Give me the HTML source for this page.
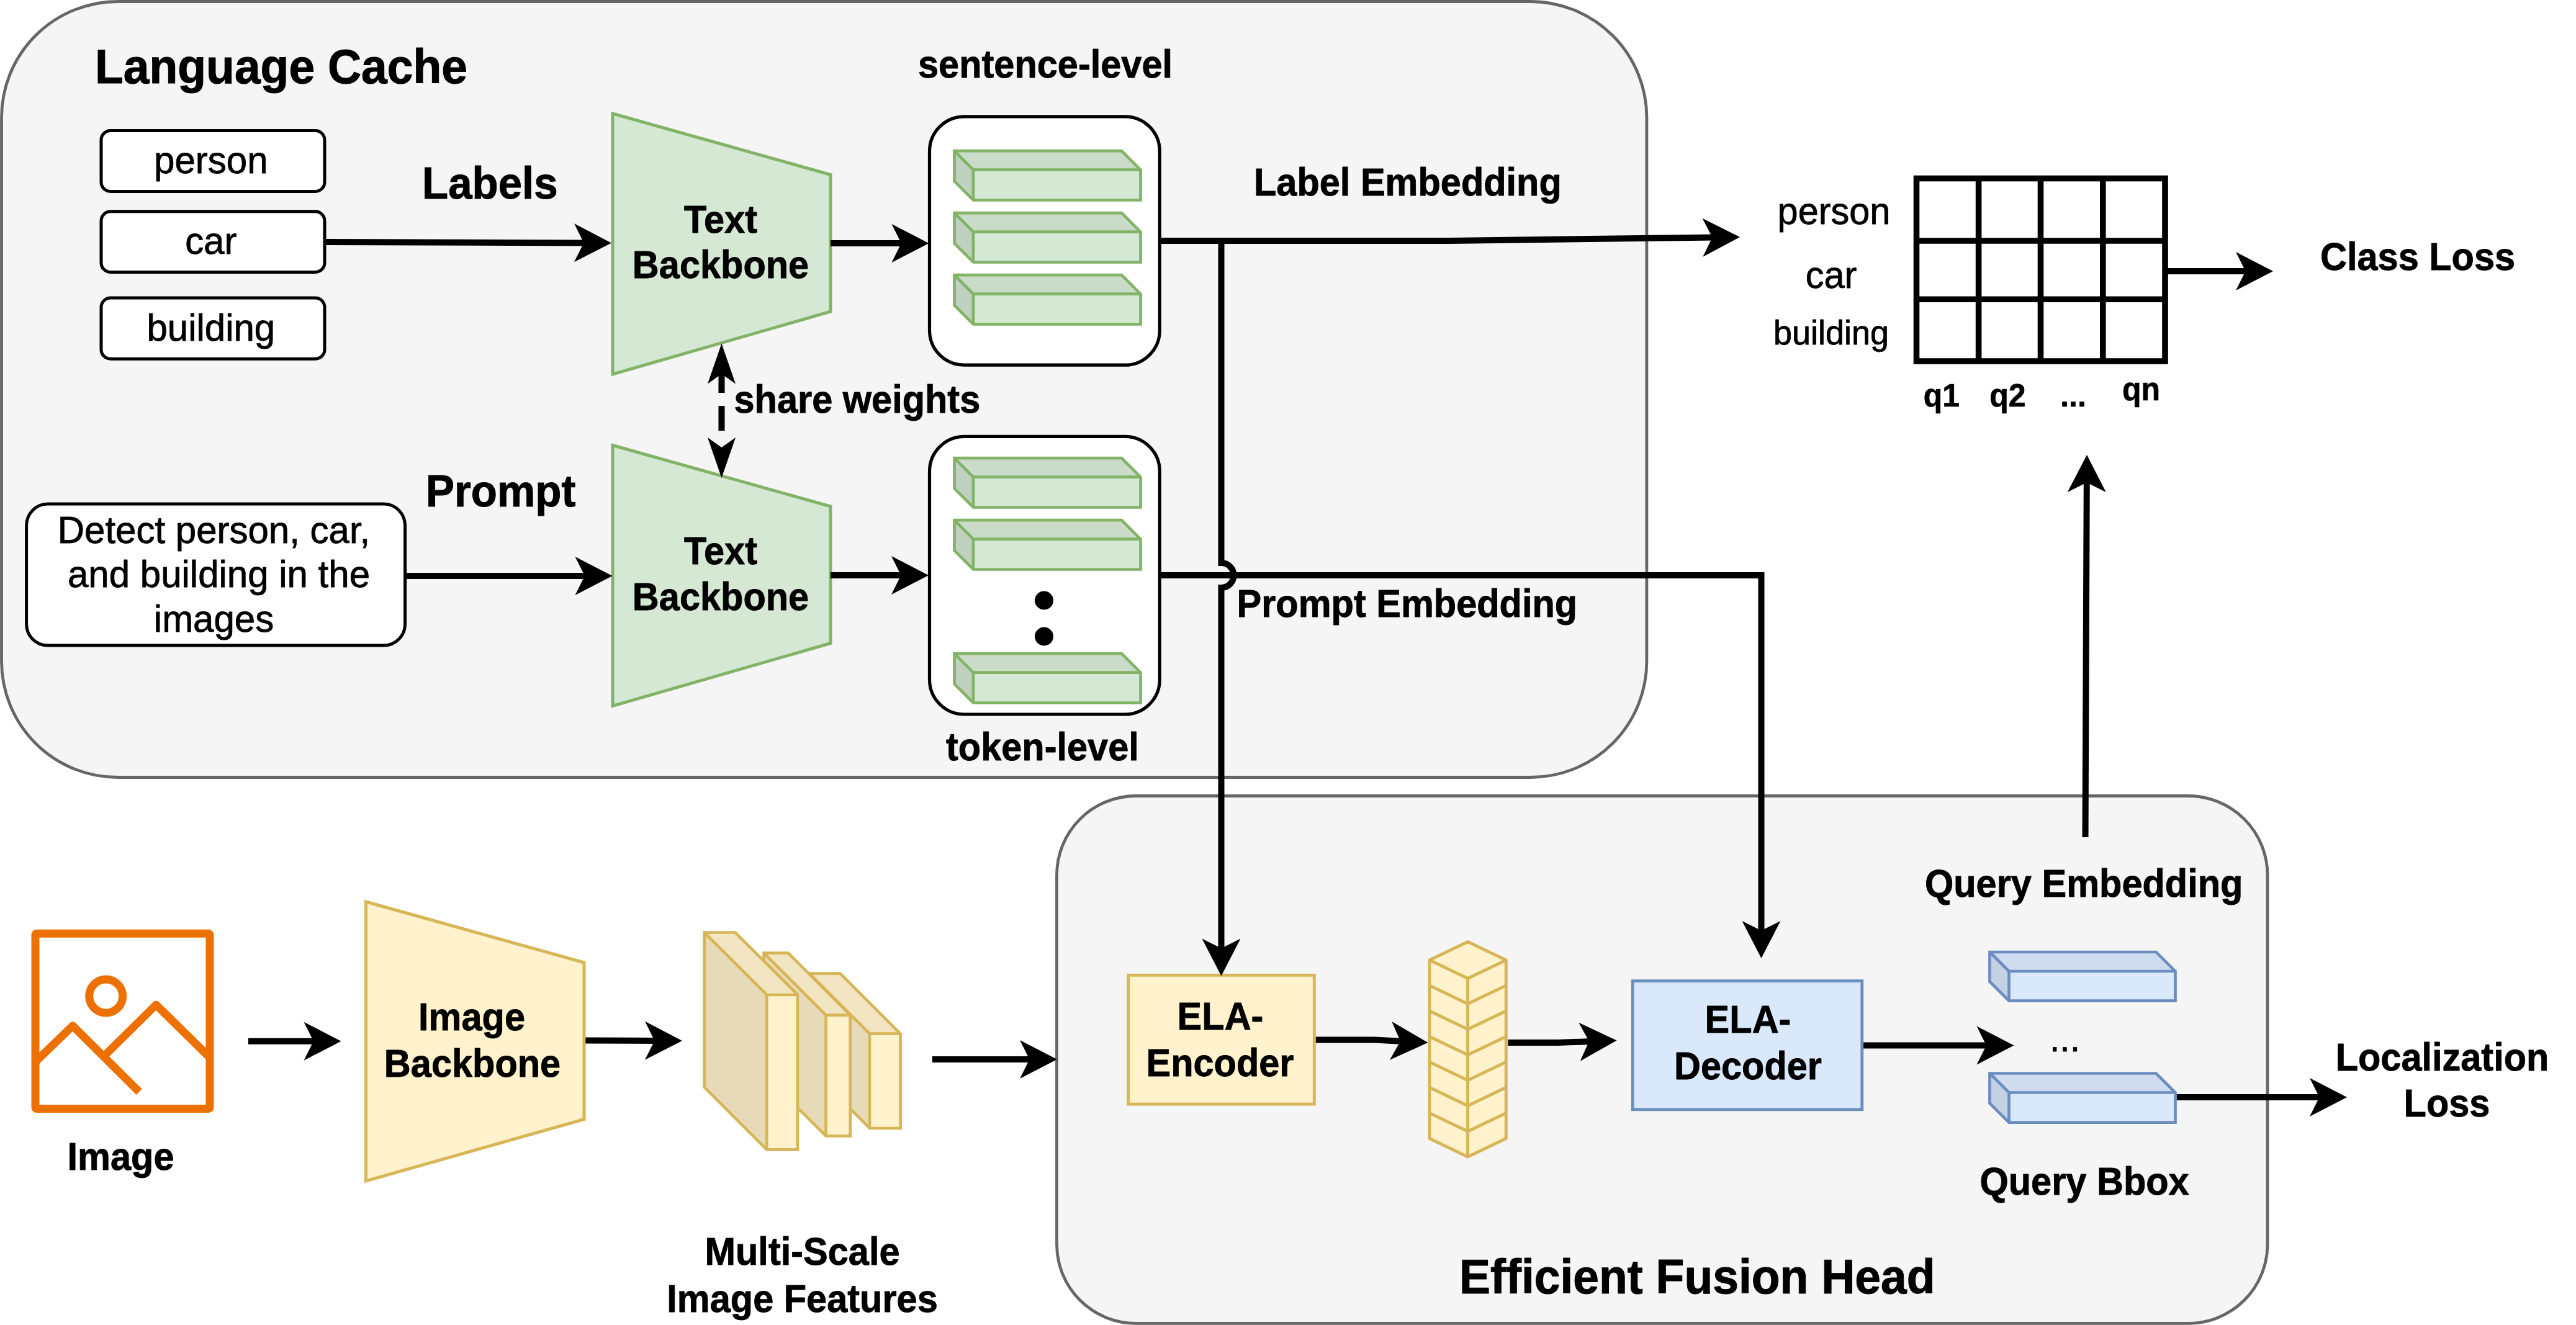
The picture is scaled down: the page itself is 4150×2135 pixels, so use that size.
<!DOCTYPE html><html><head><meta charset="utf-8"><title>Architecture</title><style>html,body{margin:0;padding:0;background:#fff;overflow:hidden;width:4150px;height:2135px}svg{display:block}text{font-family:"Liberation Sans",Arial,Helvetica,sans-serif;fill:#000}</style></head><body>
<svg width="4150" height="2135" viewBox="0 0 4150 2135">
<rect width="4150" height="2135" fill="#fff"/>
<rect x="2.5" y="2.5" width="2650.4" height="1250" rx="187" ry="187" fill="#f5f5f5" stroke="#666" stroke-width="4.8"/>
<rect x="1702.5" y="1282.5" width="1950.5" height="849.9" rx="127.5" ry="127.5" fill="#f5f5f5" stroke="#666" stroke-width="4.8"/>
<text transform="translate(153.0,133.5) scale(1,1.045)" font-size="75.0" font-weight="700" text-anchor="start" stroke="#000" stroke-width="1.05" stroke-linejoin="round">Language Cache</text>
<text transform="translate(2351.0,2084.0) scale(1,1.045)" font-size="75.0" font-weight="700" text-anchor="start" stroke="#000" stroke-width="1.05" stroke-linejoin="round">Efficient Fusion Head</text>
<rect x="163" y="210.5" width="360" height="98.0" rx="15" ry="15" fill="#fff" stroke="#000" stroke-width="5"/>
<text transform="translate(339.8,279.0) scale(1,1.020)" font-size="60.0"  text-anchor="middle" stroke="#000" stroke-width="0.84" stroke-linejoin="round">person</text>
<rect x="163" y="340.8" width="360" height="97.7" rx="15" ry="15" fill="#fff" stroke="#000" stroke-width="5"/>
<text transform="translate(339.8,409.3) scale(1,1.020)" font-size="60.0"  text-anchor="middle" stroke="#000" stroke-width="0.84" stroke-linejoin="round">car</text>
<rect x="163" y="480.1" width="360" height="98.1" rx="15" ry="15" fill="#fff" stroke="#000" stroke-width="5"/>
<text transform="translate(339.8,548.6) scale(1,1.020)" font-size="60.0"  text-anchor="middle" stroke="#000" stroke-width="0.84" stroke-linejoin="round">building</text>
<text transform="translate(680.0,319.5) scale(1,1.045)" font-size="69.0" font-weight="700" text-anchor="start" stroke="#000" stroke-width="0.97" stroke-linejoin="round">Labels</text>
<text transform="translate(686.0,815.5) scale(1,1.045)" font-size="69.0" font-weight="700" text-anchor="start" stroke="#000" stroke-width="0.97" stroke-linejoin="round">Prompt</text>
<rect x="42.6" y="812.1" width="610" height="228" rx="34.5" ry="34.5" fill="#fff" stroke="#000" stroke-width="5"/>
<text transform="translate(344.5,875.0) scale(1,1.020)" font-size="60.0"  text-anchor="middle" stroke="#000" stroke-width="0.84" stroke-linejoin="round">Detect person, car,</text>
<text transform="translate(352.5,946.0) scale(1,1.020)" font-size="60.0"  text-anchor="middle" stroke="#000" stroke-width="0.84" stroke-linejoin="round">and building in the</text>
<text transform="translate(344.5,1018.0) scale(1,1.020)" font-size="60.0"  text-anchor="middle" stroke="#000" stroke-width="0.84" stroke-linejoin="round">images</text>
<polygon points="987,183.0 1338,281.5 1338,502.0 987,603.0" fill="#d5e8d4" stroke="#82b366" stroke-width="5" stroke-linejoin="miter"/>
<text transform="translate(1161.0,374.5) scale(1,1.045)" font-size="59.5" font-weight="700" text-anchor="middle" stroke="#000" stroke-width="0.83" stroke-linejoin="round">Text</text>
<text transform="translate(1161.0,448.0) scale(1,1.045)" font-size="59.5" font-weight="700" text-anchor="middle" stroke="#000" stroke-width="0.83" stroke-linejoin="round">Backbone</text>
<polygon points="987,717.5 1338,816.0 1338,1036.5 987,1137.5" fill="#d5e8d4" stroke="#82b366" stroke-width="5" stroke-linejoin="miter"/>
<text transform="translate(1161.0,909.0) scale(1,1.045)" font-size="59.5" font-weight="700" text-anchor="middle" stroke="#000" stroke-width="0.83" stroke-linejoin="round">Text</text>
<text transform="translate(1161.0,982.5) scale(1,1.045)" font-size="59.5" font-weight="700" text-anchor="middle" stroke="#000" stroke-width="0.83" stroke-linejoin="round">Backbone</text>
<rect x="1497.5" y="187.8" width="370.8" height="400.4" rx="56" ry="56" fill="#fff" stroke="#000" stroke-width="5.2"/>
<rect x="1497.5" y="703.4" width="370.8" height="447.6" rx="56" ry="56" fill="#fff" stroke="#000" stroke-width="5.2"/>
<g stroke="#82b366" stroke-width="4.7" stroke-linejoin="miter">
<polygon points="1537.5,243.2 1807.0,243.2 1837.5,273.7 1568.0,273.7" fill="#cadcc9" stroke="none"/>
<polygon points="1537.5,243.2 1568.0,273.7 1568.0,322.5 1537.5,292.0" fill="#c0d1bf" stroke="none"/>
<rect x="1568.0" y="273.7" width="269.5" height="48.8" fill="#d5e8d4" stroke="none"/>
<polygon points="1537.5,243.2 1807.0,243.2 1837.5,273.7 1837.5,322.5 1568.0,322.5 1537.5,292.0" fill="none"/>
<path d="M1537.5,243.2 L1568.0,273.7 L1837.5,273.7 M1568.0,273.7 L1568.0,322.5" fill="none"/>
</g>
<g stroke="#82b366" stroke-width="4.7" stroke-linejoin="miter">
<polygon points="1537.5,343.2 1807.0,343.2 1837.5,373.7 1568.0,373.7" fill="#cadcc9" stroke="none"/>
<polygon points="1537.5,343.2 1568.0,373.7 1568.0,422.5 1537.5,392.0" fill="#c0d1bf" stroke="none"/>
<rect x="1568.0" y="373.7" width="269.5" height="48.8" fill="#d5e8d4" stroke="none"/>
<polygon points="1537.5,343.2 1807.0,343.2 1837.5,373.7 1837.5,422.5 1568.0,422.5 1537.5,392.0" fill="none"/>
<path d="M1537.5,343.2 L1568.0,373.7 L1837.5,373.7 M1568.0,373.7 L1568.0,422.5" fill="none"/>
</g>
<g stroke="#82b366" stroke-width="4.7" stroke-linejoin="miter">
<polygon points="1537.5,443.2 1807.0,443.2 1837.5,473.7 1568.0,473.7" fill="#cadcc9" stroke="none"/>
<polygon points="1537.5,443.2 1568.0,473.7 1568.0,522.5 1537.5,492.0" fill="#c0d1bf" stroke="none"/>
<rect x="1568.0" y="473.7" width="269.5" height="48.8" fill="#d5e8d4" stroke="none"/>
<polygon points="1537.5,443.2 1807.0,443.2 1837.5,473.7 1837.5,522.5 1568.0,522.5 1537.5,492.0" fill="none"/>
<path d="M1537.5,443.2 L1568.0,473.7 L1837.5,473.7 M1568.0,473.7 L1568.0,522.5" fill="none"/>
</g>
<g stroke="#82b366" stroke-width="4.7" stroke-linejoin="miter">
<polygon points="1537.5,738.2 1807.0,738.2 1837.5,768.7 1568.0,768.7" fill="#cadcc9" stroke="none"/>
<polygon points="1537.5,738.2 1568.0,768.7 1568.0,817.5 1537.5,787.0" fill="#c0d1bf" stroke="none"/>
<rect x="1568.0" y="768.7" width="269.5" height="48.8" fill="#d5e8d4" stroke="none"/>
<polygon points="1537.5,738.2 1807.0,738.2 1837.5,768.7 1837.5,817.5 1568.0,817.5 1537.5,787.0" fill="none"/>
<path d="M1537.5,738.2 L1568.0,768.7 L1837.5,768.7 M1568.0,768.7 L1568.0,817.5" fill="none"/>
</g>
<g stroke="#82b366" stroke-width="4.7" stroke-linejoin="miter">
<polygon points="1537.5,838.2 1807.0,838.2 1837.5,868.7 1568.0,868.7" fill="#cadcc9" stroke="none"/>
<polygon points="1537.5,838.2 1568.0,868.7 1568.0,917.5 1537.5,887.0" fill="#c0d1bf" stroke="none"/>
<rect x="1568.0" y="868.7" width="269.5" height="48.8" fill="#d5e8d4" stroke="none"/>
<polygon points="1537.5,838.2 1807.0,838.2 1837.5,868.7 1837.5,917.5 1568.0,917.5 1537.5,887.0" fill="none"/>
<path d="M1537.5,838.2 L1568.0,868.7 L1837.5,868.7 M1568.0,868.7 L1568.0,917.5" fill="none"/>
</g>
<g stroke="#82b366" stroke-width="4.7" stroke-linejoin="miter">
<polygon points="1537.5,1053.2 1807.0,1053.2 1837.5,1083.7 1568.0,1083.7" fill="#cadcc9" stroke="none"/>
<polygon points="1537.5,1053.2 1568.0,1083.7 1568.0,1132.5 1537.5,1102.0" fill="#c0d1bf" stroke="none"/>
<rect x="1568.0" y="1083.7" width="269.5" height="48.8" fill="#d5e8d4" stroke="none"/>
<polygon points="1537.5,1053.2 1807.0,1053.2 1837.5,1083.7 1837.5,1132.5 1568.0,1132.5 1537.5,1102.0" fill="none"/>
<path d="M1537.5,1053.2 L1568.0,1083.7 L1837.5,1083.7 M1568.0,1083.7 L1568.0,1132.5" fill="none"/>
</g>
<circle cx="1682" cy="967.5" r="15" fill="#000"/><circle cx="1682" cy="1025.5" r="15" fill="#000"/>
<text transform="translate(1479.0,125.0) scale(1,1.045)" font-size="59.5" font-weight="700" text-anchor="start" stroke="#000" stroke-width="0.83" stroke-linejoin="round">sentence-level</text>
<text transform="translate(1524.0,1225.0) scale(1,1.045)" font-size="59.5" font-weight="700" text-anchor="start" stroke="#000" stroke-width="0.83" stroke-linejoin="round">token-level</text>
<text transform="translate(1182.5,664.5) scale(1,1.045)" font-size="59.5" font-weight="700" text-anchor="start" stroke="#000" stroke-width="0.83" stroke-linejoin="round">share weights</text>
<text transform="translate(2020.0,314.5) scale(1,1.045)" font-size="59.5" font-weight="700" text-anchor="start" stroke="#000" stroke-width="0.83" stroke-linejoin="round">Label Embedding</text>
<text transform="translate(1992.5,994.0) scale(1,1.045)" font-size="59.5" font-weight="700" text-anchor="start" stroke="#000" stroke-width="0.83" stroke-linejoin="round">Prompt Embedding</text>
<path d="M525.0,390.0 L944.5,391.4" fill="none" stroke="#000" stroke-width="10.0" stroke-linejoin="miter" />
<polygon points="985.0,391.5 924.9,422.3 940.5,391.4 925.1,360.3" fill="#000"/>
<path d="M1338.0,392.0 L1456.0,392.0" fill="none" stroke="#000" stroke-width="10.0" stroke-linejoin="miter" />
<polygon points="1496.5,392.0 1436.5,423.0 1452.0,392.0 1436.5,361.0" fill="#000"/>
<path d="M1870.0,388.0 L2335.0,388.0 L2762.5,382.5" fill="none" stroke="#000" stroke-width="10.0" stroke-linejoin="miter" />
<polygon points="2803.0,382.0 2743.4,413.8 2758.5,382.6 2742.6,351.8" fill="#000"/>
<path d="M654.0,928.0 L946.0,928.0" fill="none" stroke="#000" stroke-width="10.0" stroke-linejoin="miter" />
<polygon points="986.5,928.0 926.5,959.0 942.0,928.0 926.5,897.0" fill="#000"/>
<path d="M1338.0,927.0 L1455.5,927.0" fill="none" stroke="#000" stroke-width="10.0" stroke-linejoin="miter" />
<polygon points="1496.0,927.0 1436.0,958.0 1451.5,927.0 1436.0,896.0" fill="#000"/>
<path d="M1870.0,927.0 L2837.5,927.0 L2837.5,1503.5" fill="none" stroke="#000" stroke-width="10.0" stroke-linejoin="miter" />
<polygon points="2837.5,1544.0 2806.5,1484.0 2837.5,1499.5 2868.5,1484.0" fill="#000"/>
<path d="M1162.5,600 L1162.5,633 M1162.5,654 L1162.5,694" stroke="#000" stroke-width="10" fill="none"/>
<polygon points="1162.5,553.5 1185.0,618.5 1162.5,602.5 1140.0,618.5" fill="#000"/>
<polygon points="1162.5,770.0 1140.0,705.0 1162.5,721.0 1185.0,705.0" fill="#000"/>
<path d="M3492.0,437.0 L3621.5,437.0" fill="none" stroke="#000" stroke-width="10.0" stroke-linejoin="miter" />
<polygon points="3662.0,437.0 3602.0,468.0 3617.5,437.0 3602.0,406.0" fill="#000"/>
<path d="M3359.5,1349.0 L3361.8,773.5" fill="none" stroke="#000" stroke-width="10.0" stroke-linejoin="miter" />
<polygon points="3362.0,733.0 3392.8,793.1 3361.8,777.5 3330.8,792.9" fill="#000"/>
<path d="M400.0,1677.7 L509.0,1677.7" fill="none" stroke="#000" stroke-width="10.0" stroke-linejoin="miter" />
<polygon points="549.5,1677.7 489.5,1708.7 505.0,1677.7 489.5,1646.7" fill="#000"/>
<path d="M941.0,1676.5 L1058.5,1676.9" fill="none" stroke="#000" stroke-width="10.0" stroke-linejoin="miter" />
<polygon points="1099.0,1677.0 1038.9,1707.8 1054.5,1676.9 1039.1,1645.8" fill="#000"/>
<path d="M1502.0,1707.0 L1662.5,1707.0" fill="none" stroke="#000" stroke-width="10.0" stroke-linejoin="miter" />
<polygon points="1703.0,1707.0 1643.0,1738.0 1658.5,1707.0 1643.0,1676.0" fill="#000"/>
<path d="M2119.5,1675.5 L2215.0,1675.5 L2260.1,1677.9" fill="none" stroke="#000" stroke-width="10.0" stroke-linejoin="miter" />
<polygon points="2300.5,1680.0 2239.0,1707.8 2256.1,1677.7 2242.2,1645.9" fill="#000"/>
<path d="M2429.5,1680.0 L2510.0,1680.0 L2564.0,1678.0" fill="none" stroke="#000" stroke-width="10.0" stroke-linejoin="miter" />
<polygon points="2604.5,1676.5 2545.7,1709.7 2560.0,1678.1 2543.4,1647.7" fill="#000"/>
<path d="M3001.5,1684.5 L3204.0,1684.5" fill="none" stroke="#000" stroke-width="10.0" stroke-linejoin="miter" />
<polygon points="3244.5,1684.5 3184.5,1715.5 3200.0,1684.5 3184.5,1653.5" fill="#000"/>
<path d="M3506.5,1768.0 L3740.5,1768.0" fill="none" stroke="#000" stroke-width="10.0" stroke-linejoin="miter" />
<polygon points="3781.0,1768.0 3721.0,1799.0 3736.5,1768.0 3721.0,1737.0" fill="#000"/>
<text transform="translate(2954.5,361.0) scale(1,1.020)" font-size="59.5"  text-anchor="middle" stroke="#000" stroke-width="0.83" stroke-linejoin="round">person</text>
<text transform="translate(2950.0,464.0) scale(1,1.020)" font-size="59.5"  text-anchor="middle" stroke="#000" stroke-width="0.83" stroke-linejoin="round">car</text>
<text transform="translate(2950.0,555.0) scale(1,1.020)" font-size="54.0"  text-anchor="middle" stroke="#000" stroke-width="0.76" stroke-linejoin="round">building</text>
<g stroke="#000" stroke-width="9.6" fill="none"><rect x="3087.5" y="287.5" width="400.5" height="294.5" fill="#fff"/>
<line x1="3187.6" y1="287.5" x2="3187.6" y2="582"/>
<line x1="3287.5" y1="287.5" x2="3287.5" y2="582"/>
<line x1="3387.8" y1="287.5" x2="3387.8" y2="582"/>
<line x1="3087.5" y1="388.0" x2="3488" y2="388.0"/>
<line x1="3087.5" y1="482.3" x2="3488" y2="482.3"/>
</g>
<text transform="translate(3128.0,654.5) scale(1,1.045)" font-size="50.0" font-weight="700" text-anchor="middle" stroke="#000" stroke-width="0.70" stroke-linejoin="round">q1</text>
<text transform="translate(3234.5,655.0) scale(1,1.045)" font-size="50.0" font-weight="700" text-anchor="middle" stroke="#000" stroke-width="0.70" stroke-linejoin="round">q2</text>
<text transform="translate(3340.0,655.0) scale(1,1.045)" font-size="50.0" font-weight="700" text-anchor="middle" stroke="#000" stroke-width="0.70" stroke-linejoin="round">...</text>
<text transform="translate(3449.5,645.0) scale(1,1.045)" font-size="50.0" font-weight="700" text-anchor="middle" stroke="#000" stroke-width="0.70" stroke-linejoin="round">qn</text>
<text transform="translate(3738.0,434.5) scale(1,1.045)" font-size="59.5" font-weight="700" text-anchor="start" stroke="#000" stroke-width="0.83" stroke-linejoin="round">Class Loss</text>
<text transform="translate(3101.0,1445.0) scale(1,1.045)" font-size="59.5" font-weight="700" text-anchor="start" stroke="#000" stroke-width="0.83" stroke-linejoin="round">Query Embedding</text>
<text transform="translate(3189.5,1925.0) scale(1,1.045)" font-size="59.5" font-weight="700" text-anchor="start" stroke="#000" stroke-width="0.83" stroke-linejoin="round">Query Bbox</text>
<text transform="translate(3934.5,1725.0) scale(1,1.045)" font-size="59.5" font-weight="700" text-anchor="middle" stroke="#000" stroke-width="0.83" stroke-linejoin="round">Localization</text>
<text transform="translate(3942.0,1799.0) scale(1,1.045)" font-size="59.5" font-weight="700" text-anchor="middle" stroke="#000" stroke-width="0.83" stroke-linejoin="round">Loss</text>
<g stroke="#ED7100" stroke-width="13" fill="none">
<rect x="57" y="1504.2" width="281" height="282.2" rx="2" ry="2"/>
<circle cx="170.7" cy="1605.1" r="27"/>
<path d="M57,1711 L117.2,1652.8 L224.2,1759.3" stroke-linejoin="round"/>
<path d="M167.5,1702 L251.4,1619 L338,1704" stroke-linejoin="round"/>
</g>
<text transform="translate(194.5,1885.0) scale(1,1.045)" font-size="59.5" font-weight="700" text-anchor="middle" stroke="#000" stroke-width="0.83" stroke-linejoin="round">Image</text>
<polygon points="589.5,1453 941,1551 941,1803.5 589.5,1903" fill="#fff2cc" stroke="#d6b656" stroke-width="5"/>
<text transform="translate(760.0,1659.5) scale(1,1.045)" font-size="59.5" font-weight="700" text-anchor="middle" stroke="#000" stroke-width="0.83" stroke-linejoin="round">Image</text>
<text transform="translate(761.0,1734.5) scale(1,1.045)" font-size="59.5" font-weight="700" text-anchor="middle" stroke="#000" stroke-width="0.83" stroke-linejoin="round">Backbone</text>
<g stroke="#d6b656" stroke-width="4.7" stroke-linejoin="miter">
<polygon points="1304.0,1568.7 1353.6,1568.7 1450.6,1665.7 1401.0,1665.7" fill="#f2e6c2" stroke="none"/>
<polygon points="1304.0,1568.7 1401.0,1665.7 1401.0,1818.0 1304.0,1721.0" fill="#e6dab8" stroke="none"/>
<rect x="1401.0" y="1665.7" width="49.6" height="152.3" fill="#fff2cc" stroke="none"/>
<polygon points="1304.0,1568.7 1353.6,1568.7 1450.6,1665.7 1450.6,1818.0 1401.0,1818.0 1304.0,1721.0" fill="none"/>
<path d="M1304.0,1568.7 L1401.0,1665.7 L1450.6,1665.7 M1401.0,1665.7 L1401.0,1818.0" fill="none"/>
</g>
<g stroke="#d6b656" stroke-width="4.7" stroke-linejoin="miter">
<polygon points="1230.6,1535.6 1269.8,1535.6 1369.8,1635.6 1330.6,1635.6" fill="#f2e6c2" stroke="none"/>
<polygon points="1230.6,1535.6 1330.6,1635.6 1330.6,1830.5 1230.6,1730.5" fill="#e6dab8" stroke="none"/>
<rect x="1330.6" y="1635.6" width="39.2" height="194.9" fill="#fff2cc" stroke="none"/>
<polygon points="1230.6,1535.6 1269.8,1535.6 1369.8,1635.6 1369.8,1830.5 1330.6,1830.5 1230.6,1730.5" fill="none"/>
<path d="M1230.6,1535.6 L1330.6,1635.6 L1369.8,1635.6 M1330.6,1635.6 L1330.6,1830.5" fill="none"/>
</g>
<g stroke="#d6b656" stroke-width="4.7" stroke-linejoin="miter">
<polygon points="1134.7,1502.5 1184.5,1502.5 1285.0,1603.0 1235.2,1603.0" fill="#f2e6c2" stroke="none"/>
<polygon points="1134.7,1502.5 1235.2,1603.0 1235.2,1852.4 1134.7,1751.9" fill="#e6dab8" stroke="none"/>
<rect x="1235.2" y="1603.0" width="49.8" height="249.4" fill="#fff2cc" stroke="none"/>
<polygon points="1134.7,1502.5 1184.5,1502.5 1285.0,1603.0 1285.0,1852.4 1235.2,1852.4 1134.7,1751.9" fill="none"/>
<path d="M1134.7,1502.5 L1235.2,1603.0 L1285.0,1603.0 M1235.2,1603.0 L1235.2,1852.4" fill="none"/>
</g>
<text transform="translate(1292.5,2038.0) scale(1,1.045)" font-size="59.5" font-weight="700" text-anchor="middle" stroke="#000" stroke-width="0.83" stroke-linejoin="round">Multi-Scale</text>
<text transform="translate(1292.5,2114.0) scale(1,1.045)" font-size="59.5" font-weight="700" text-anchor="middle" stroke="#000" stroke-width="0.83" stroke-linejoin="round">Image Features</text>
<rect x="1817.7" y="1571.3" width="299.6" height="207.8" fill="#fff2cc" stroke="#d6b656" stroke-width="4.8"/>
<text transform="translate(1966.0,1659.0) scale(1,1.045)" font-size="59.5" font-weight="700" text-anchor="middle" stroke="#000" stroke-width="0.83" stroke-linejoin="round">ELA-</text>
<text transform="translate(1965.5,1734.2) scale(1,1.045)" font-size="59.5" font-weight="700" text-anchor="middle" stroke="#000" stroke-width="0.83" stroke-linejoin="round">Encoder</text>
<path d="M1967.5,388 L1967.5,907 A20,20 0 0 1 1967.5,947 L1967.5,1532.0" fill="none" stroke="#000" stroke-width="10.0"/>
<polygon points="1967.5,1572.5 1936.5,1512.5 1967.5,1528.0 1998.5,1512.5" fill="#000"/>
<g stroke="#d6b656" stroke-width="5" fill="#fff2cc" stroke-linejoin="round">
<polygon points="2364.6,1517.5 2426.3,1547.0 2426.3,1834.5 2364.6,1864.0 2303.0,1834.5 2303.0,1547.0"/>
<path d="M2364.6,1576.5 L2364.6,1864.0" fill="none"/>
<path d="M2303.0,1547.0 L2364.6,1576.5 L2426.3,1547.0" fill="none"/>
<path d="M2303.0,1588.1 L2364.6,1617.6 L2426.3,1588.1" fill="none"/>
<path d="M2303.0,1629.1 L2364.6,1658.6 L2426.3,1629.1" fill="none"/>
<path d="M2303.0,1670.2 L2364.6,1699.7 L2426.3,1670.2" fill="none"/>
<path d="M2303.0,1711.3 L2364.6,1740.8 L2426.3,1711.3" fill="none"/>
<path d="M2303.0,1752.3 L2364.6,1781.8 L2426.3,1752.3" fill="none"/>
<path d="M2303.0,1793.4 L2364.6,1822.9 L2426.3,1793.4" fill="none"/>
</g>
<rect x="2630.2" y="1580.6" width="369.6" height="207.2" fill="#dae8fc" stroke="#6c8ebf" stroke-width="4.8"/>
<text transform="translate(2816.0,1664.0) scale(1,1.045)" font-size="59.5" font-weight="700" text-anchor="middle" stroke="#000" stroke-width="0.83" stroke-linejoin="round">ELA-</text>
<text transform="translate(2816.0,1739.0) scale(1,1.045)" font-size="59.5" font-weight="700" text-anchor="middle" stroke="#000" stroke-width="0.83" stroke-linejoin="round">Decoder</text>
<g stroke="#6c8ebf" stroke-width="4.7" stroke-linejoin="miter">
<polygon points="3205.5,1534.0 3473.5,1534.0 3504.5,1565.0 3236.5,1565.0" fill="#cfdcef" stroke="none"/>
<polygon points="3205.5,1534.0 3236.5,1565.0 3236.5,1612.7 3205.5,1581.7" fill="#c4d1e3" stroke="none"/>
<rect x="3236.5" y="1565.0" width="268.0" height="47.7" fill="#dae8fc" stroke="none"/>
<polygon points="3205.5,1534.0 3473.5,1534.0 3504.5,1565.0 3504.5,1612.7 3236.5,1612.7 3205.5,1581.7" fill="none"/>
<path d="M3205.5,1534.0 L3236.5,1565.0 L3504.5,1565.0 M3236.5,1565.0 L3236.5,1612.7" fill="none"/>
</g>
<g stroke="#6c8ebf" stroke-width="4.7" stroke-linejoin="miter">
<polygon points="3205.5,1729.5 3473.5,1729.5 3504.5,1760.5 3236.5,1760.5" fill="#cfdcef" stroke="none"/>
<polygon points="3205.5,1729.5 3236.5,1760.5 3236.5,1808.7 3205.5,1777.7" fill="#c4d1e3" stroke="none"/>
<rect x="3236.5" y="1760.5" width="268.0" height="48.2" fill="#dae8fc" stroke="none"/>
<polygon points="3205.5,1729.5 3473.5,1729.5 3504.5,1760.5 3504.5,1808.7 3236.5,1808.7 3205.5,1777.7" fill="none"/>
<path d="M3205.5,1729.5 L3236.5,1760.5 L3504.5,1760.5 M3236.5,1760.5 L3236.5,1808.7" fill="none"/>
</g>
<text transform="translate(3326.5,1694.0) scale(1,1.020)" font-size="59.0"  text-anchor="middle" stroke="#000" stroke-width="0.83" stroke-linejoin="round">...</text>
</svg></body></html>
